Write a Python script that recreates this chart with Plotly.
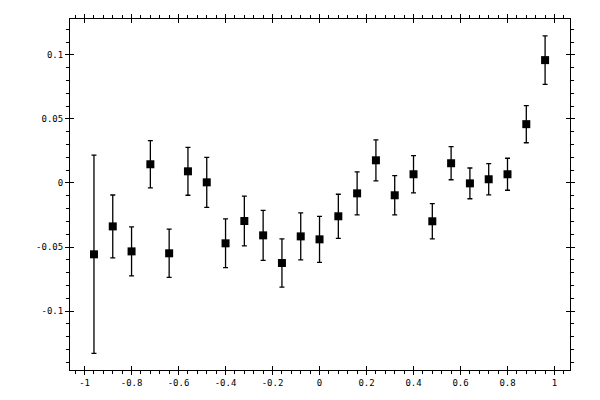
import plotly.graph_objects as go

x_vals = [-0.96, -0.88, -0.80, -0.72, -0.64, -0.56, -0.48, -0.40, -0.32, -0.24,
          -0.16, -0.08, 0.00, 0.08, 0.16, 0.24, 0.32, 0.40, 0.48, 0.56,
          0.64, 0.72, 0.80, 0.88, 0.96]
y_vals = [-0.0557, -0.0339, -0.0534, 0.0146, -0.0549, 0.0091, 0.0005, -0.0471, -0.0297, -0.0409,
          -0.0625, -0.0417, -0.0440, -0.0260, -0.0081, 0.0177, -0.0096, 0.0068, -0.0299, 0.0154,
          -0.0003, 0.0029, 0.0068, 0.0459, 0.0959]
y_err = [0.0774, 0.0245, 0.0192, 0.0184, 0.0188, 0.0187, 0.0195, 0.0190, 0.0194, 0.0195,
         0.0188, 0.0184, 0.0180, 0.0172, 0.0168, 0.0160, 0.0153, 0.0145, 0.0137, 0.0129,
         0.0120, 0.0122, 0.0125, 0.0145, 0.0190]

x_tick_vals = [-1, -0.8, -0.6, -0.4, -0.2, 0, 0.2, 0.4, 0.6, 0.8, 1]
x_tick_text = ["-1", "-0.8", "-0.6", "-0.4", "-0.2", "0", "0.2", "0.4", "0.6", "0.8", "1"]
y_tick_vals = [-0.1, -0.05, 0, 0.05, 0.1]
y_tick_text = ["-0.1", "-0.05", "0", "0.05", "0.1"]

x_range = [-1.062, 1.066]
y_range = [-0.146, 0.128]

fig = go.Figure()
fig.add_trace(go.Scatter(
    x=x_vals, y=y_vals, mode="markers",
    marker=dict(symbol="square", size=8, color="black", line=dict(width=0)),
    error_y=dict(type="data", array=y_err, visible=True, color="black",
                 thickness=1.3, width=2.5),
    showlegend=False,
))
# helper trace for the inner halves of major ticks
fig.add_trace(go.Scatter(x=[], y=[], xaxis="x2", yaxis="y2", showlegend=False))

font = dict(family="DejaVu Sans Mono", size=9, color="black")
common = dict(showgrid=False, zeroline=False, color="black", automargin=False)

fig.update_layout(
    width=600, height=400,
    margin=dict(l=70, r=30, t=19, b=30),
    paper_bgcolor="white", plot_bgcolor="white",
    font=font,
    xaxis=dict(range=x_range, tickvals=x_tick_vals, ticktext=x_tick_text,
               ticks="outside", ticklen=4, tickwidth=1, tickcolor="black",
               showline=True, linecolor="black", linewidth=1, mirror="allticks",
               minor=dict(dtick=0.04, tick0=0, ticks="outside", ticklen=3,
                          tickcolor="black", tickwidth=1),
               tickfont=font, **common),
    yaxis=dict(range=y_range, tickvals=y_tick_vals, ticktext=y_tick_text,
               ticks="outside", ticklen=4, tickwidth=1, tickcolor="black",
               showline=True, linecolor="black", linewidth=1, mirror="allticks",
               minor=dict(dtick=0.01, tick0=0, ticks="outside", ticklen=3,
                          tickcolor="black", tickwidth=1),
               tickfont=font, **common),
    xaxis2=dict(range=x_range, overlaying="x", anchor="y2", tickvals=x_tick_vals,
                ticks="inside", ticklen=4, tickwidth=1, tickcolor="black",
                showticklabels=False, showline=False, mirror="allticks", **common),
    yaxis2=dict(range=y_range, overlaying="y", anchor="x2", tickvals=y_tick_vals,
                ticks="inside", ticklen=4, tickwidth=1, tickcolor="black",
                showticklabels=False, showline=False, mirror="allticks", **common),
)

fig.write_html("out.html", config={"displayModeBar": False},
               post_script="document.body.style.margin='0';")
